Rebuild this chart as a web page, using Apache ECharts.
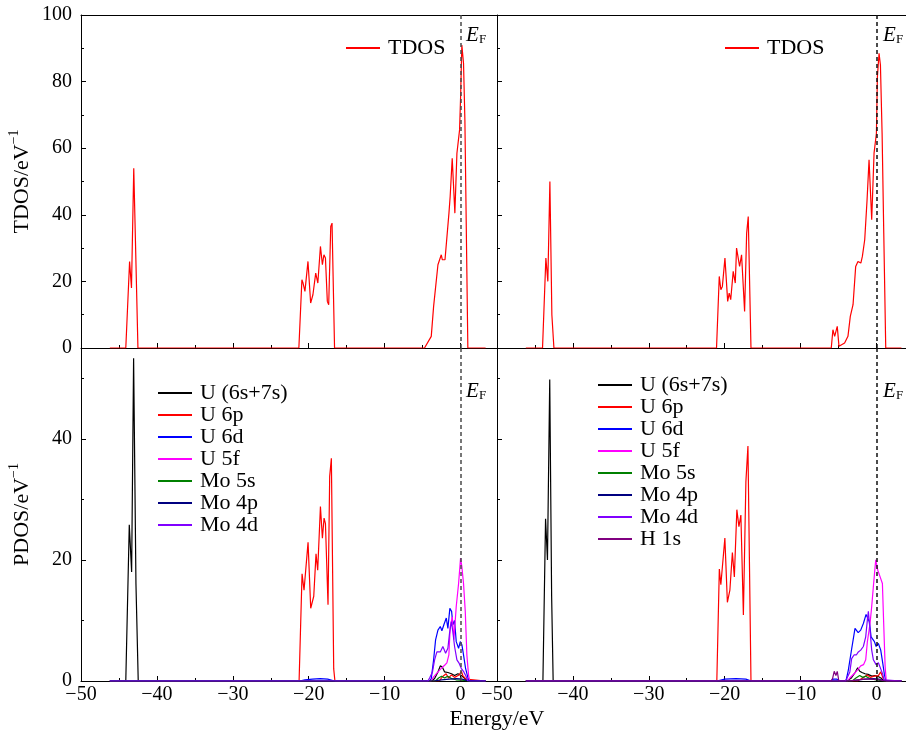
<!DOCTYPE html>
<html>
<head>
<meta charset="utf-8">
<script src="https://cdn.jsdelivr.net/npm/echarts@6/dist/echarts.min.js"></script>
<style>
  html, body { margin: 0; padding: 0; background: #ffffff; }
  #chart { width: 906px; height: 735px; }
</style>
</head>
<body>
<div id="chart"></div>
<script>
// ---- Density of states, [energy (eV), DOS (states/eV)] ----

// Total DOS, left structure
const tdosLeft = [
  [-46.2, 0], [-44.1, 0], [-43.6, 26], [-43.35, 18], [-43.05, 54], [-42.5, 0],
  [-21.3, 0], [-20.9, 20.5], [-20.75, 19.5], [-20.5, 17], [-20.1, 26], [-19.75, 13.5], [-19.45, 16], [-19.25, 16],
  [-19.08, 22.5], [-18.8, 19.5], [-18.46, 30.5], [-18.2, 25], [-18.0, 28], [-17.8, 27], [-17.55, 14], [-17.37, 13],
  [-17.1, 36.5], [-16.93, 37.5], [-16.6, 0],
  [-4.75, 0], [-3.86, 3.5], [-3.55, 12.5], [-3.35, 13], [-2.98, 25], [-2.54, 28], [-2.4, 26.5], [-2.05, 26.5],
  [-1.9, 27], [-1.53, 40.5], [-1.37, 45.5], [-1.1, 57], [-0.75, 40.5], [-0.48, 58.5], [-0.13, 65.5], [0.0, 75],
  [0.17, 91], [0.39, 85.5], [0.57, 68.5], [0.96, 0], [3.3, 0]
];

// Total DOS, right structure
const tdosRight = [
  [-46.2, 0], [-44.0, 0], [-43.56, 27], [-43.3, 20], [-43.03, 50], [-42.77, 10], [-42.5, 0],
  [-21.07, 0], [-20.71, 21.5], [-20.5, 17.5], [-20.3, 18.5], [-19.96, 27], [-19.6, 14], [-19.4, 16.5], [-19.2, 14.5],
  [-18.87, 23], [-18.6, 19.5], [-18.43, 30], [-18.3, 30], [-18.03, 24.5], [-17.77, 28], [-17.37, 11], [-17.1, 34.5],
  [-16.89, 39.5], [-16.53, 0],
  [-5.95, 0], [-5.73, 5.5], [-5.5, 3.5], [-5.16, 6.5], [-4.93, 0.5], [-4.7, 0], [-4.19, 1.5], [-3.75, 3.5],
  [-3.44, 9.5], [-3.08, 13], [-2.73, 24.5], [-2.43, 26], [-2.2, 26.5], [-2.05, 25.5], [-1.85, 27.5], [-1.54, 32.5],
  [-1.23, 44.5], [-0.97, 56.5], [-0.62, 38.5], [-0.31, 58.5], [0.0, 64.5], [0.13, 81.5], [0.35, 88.5], [0.53, 85],
  [0.75, 64.5], [0.97, 34.5], [1.23, 0], [3.3, 0]
];

// Partial DOS, left structure
const u6s7sLeft = [
  [-46.2, 0], [-44.1, 0], [-43.64, 25.8], [-43.33, 18], [-43.07, 53.3], [-42.76, 16], [-42.46, 0],
  [-3.8, 0], [-3.42, 0.4], [-2.98, 1.5], [-2.67, 2.5], [-2.4, 2.3], [-2.1, 1.5], [-1.67, 1.4], [-1.2, 1.2],
  [-0.79, 0.9], [-0.35, 1.2], [0.09, 0.9], [0.5, 0.5], [0.96, 0], [3.3, 0]
];
const u6pLeft = [
  [-46.2, 0], [-21.27, 0], [-20.88, 17.7], [-20.62, 15], [-20.09, 22.9], [-19.74, 12], [-19.34, 14], [-19.04, 21],
  [-18.82, 18.3], [-18.46, 28.8], [-18.2, 23.6], [-17.98, 26.9], [-17.8, 26], [-17.46, 12.6], [-17.24, 33.8],
  [-17.02, 36.8], [-16.71, 2], [-16.55, 0],
  [-2.8, 0], [-2.4, 0.7], [-1.9, 1.2], [-1.6, 0.5], [-1.2, 1], [-0.79, 0.6], [-0.2, 1], [0.1, 1.6], [0.3, 0.9],
  [0.7, 0.3], [0.96, 0], [3.3, 0]
];
const u6dLeft = [
  [-46.2, 0], [-21.2, 0], [-20.5, 0.2], [-19.5, 0.3], [-18.5, 0.4], [-17.5, 0.3], [-16.6, 0],
  [-4.1, 0], [-3.86, 0.4], [-3.55, 3.5], [-3.29, 6.8], [-2.98, 8.4], [-2.67, 9], [-2.46, 8.3], [-2.2, 9.3],
  [-1.88, 10.4], [-1.67, 8.7], [-1.41, 12], [-1.18, 11.5], [-1.01, 9.3], [-0.79, 10], [-0.57, 6.5], [-0.26, 5.4],
  [-0.04, 6.5], [0.17, 6], [0.39, 4.3], [0.66, 2.1], [0.96, 0.6], [1.1, 0], [3.3, 0]
];
const u5fLeft = [
  [-46.2, 0], [-3.9, 0], [-3.6, 0.6], [-2.98, 1.5], [-2.54, 2.1], [-2.1, 2.6], [-1.8, 3], [-1.54, 4.3],
  [-1.36, 9], [-1.09, 10.6], [-0.88, 6.8], [-0.57, 12.3], [-0.26, 16.1], [0.0, 20.3], [0.17, 18.9], [0.39, 16.1],
  [0.62, 11.5], [0.83, 4.3], [1.05, 1], [1.2, 0], [3.3, 0]
];
const mo5sLeft = [
  [-46.2, 0], [-3.3, 0], [-2.9, 0.5], [-2.5, 0.8], [-2.1, 0.5], [-1.7, 0.8], [-1.2, 0.4], [-0.6, 0.2],
  [0.5, 0.1], [0.9, 0], [3.3, 0]
];
const mo4pLeft = [
  [-46.2, 0], [-3.5, 0], [-2.5, 0.2], [-1.5, 0.3], [-0.5, 0.4], [0.2, 0.3], [0.8, 0.1], [1.0, 0], [3.3, 0]
];
const mo4dLeft = [
  [-46.2, 0], [-4.3, 0], [-4.08, 0.5], [-3.7, 1.5], [-3.42, 3.5], [-3.12, 4.8], [-2.67, 4.8], [-2.33, 5.7],
  [-1.97, 4.6], [-1.67, 5.4], [-1.45, 7.9], [-1.22, 9.8], [-1.01, 8.1], [-0.79, 5.7], [-0.48, 3.5], [-0.22, 3],
  [0.09, 2.1], [0.43, 1.5], [0.75, 0.7], [0.95, 0], [3.3, 0]
];

// Partial DOS, right structure
const u6s7sRight = [
  [-46.2, 0], [-43.95, 0], [-43.6, 26.8], [-43.35, 20], [-43.05, 49.8], [-42.8, 14], [-42.6, 0],
  [-3.9, 0], [-3.3, 0.5], [-2.8, 1.4], [-2.47, 2.2], [-2.2, 1.6], [-1.9, 1.4], [-1.5, 1.2], [-1.1, 1.1],
  [-0.6, 0.8], [-0.2, 0.9], [0.3, 0.7], [0.7, 0.4], [1.0, 0], [3.3, 0]
];
const u6pRight = [
  [-46.2, 0], [-21.03, 0], [-20.7, 18.5], [-20.5, 15.9], [-19.97, 23.6], [-19.64, 13], [-19.31, 15],
  [-18.98, 21.2], [-18.72, 17.2], [-18.39, 28.3], [-18.12, 25.5], [-17.86, 27.4], [-17.53, 10.9], [-17.2, 32.9],
  [-16.93, 38.8], [-16.53, 0],
  [-2.5, 0], [-1.8, 0.5], [-1.2, 1.0], [-0.8, 0.6], [-0.3, 0.8], [0.26, 0.9], [0.57, 1.5], [0.84, 0.6],
  [1.1, 0], [3.3, 0]
];
const u6dRight = [
  [-46.2, 0], [-21.0, 0], [-20.0, 0.3], [-18.5, 0.4], [-17.2, 0.3], [-16.5, 0],
  [-6.0, 0], [-5.7, 0.3], [-5.2, 0.3], [-4.9, 0],
  [-4.01, 0], [-3.7, 1.8], [-3.3, 5], [-2.82, 8.7], [-2.6, 8.4], [-2.4, 8], [-2.07, 8.4], [-1.72, 9.5],
  [-1.36, 11], [-1.15, 11.3], [-0.93, 9.8], [-0.7, 7.3], [-0.49, 7.4], [-0.26, 6.5], [-0.04, 5.7], [0.26, 6.2],
  [0.57, 5.1], [0.84, 2.9], [1.06, 1], [1.25, 0], [3.3, 0]
];
const u5fRight = [
  [-46.2, 0], [-3.8, 0], [-3.5, 0.5], [-2.8, 1.4], [-2.38, 2], [-2.07, 2.5], [-1.7, 2.7], [-1.41, 3.5],
  [-1.19, 6.5], [-0.84, 9.5], [-0.62, 12.3], [-0.4, 15.6], [-0.09, 20], [0.18, 18.3], [0.49, 17.2], [0.79, 16.1],
  [0.93, 10.6], [1.15, 2.4], [1.3, 0], [3.3, 0]
];
const mo5sRight = [
  [-46.2, 0], [-3.2, 0], [-2.7, 0.5], [-2.2, 0.9], [-1.8, 0.6], [-1.4, 0.8], [-0.9, 0.4], [0.0, 0.2],
  [0.9, 0], [3.3, 0]
];
const mo4pRight = [
  [-46.2, 0], [-3.4, 0], [-2.4, 0.2], [-1.4, 0.3], [-0.4, 0.4], [0.3, 0.3], [0.9, 0.1], [1.1, 0], [3.3, 0]
];
const mo4dRight = [
  [-46.2, 0], [-4.1, 0], [-3.9, 0.4], [-3.5, 1.5], [-3.26, 3.7], [-2.95, 4.3], [-2.65, 4.3], [-2.38, 4.8],
  [-2.07, 5.1], [-1.72, 5.7], [-1.41, 7.3], [-1.19, 10.1], [-1.06, 11.5], [-0.84, 8.4], [-0.62, 5.1],
  [-0.4, 3.5], [-0.04, 2.7], [0.26, 3], [0.57, 2], [0.84, 1.1], [1.0, 0.2], [1.15, 0], [3.3, 0]
];
const h1sRight = [
  [-46.2, 0], [-6.0, 0], [-5.78, 0.4], [-5.56, 1.6], [-5.34, 0.9], [-5.16, 1.6], [-4.95, 0],
  [-3.5, 0], [-2.5, 0.2], [-1.5, 0.3], [-0.5, 0.3], [0.5, 0.2], [1.0, 0], [3.3, 0]
];

// Axis ranges (the right-hand panels run off the edge of the page)
const energyRangeLeft = [-50, 4.8];
const energyRangeRight = [-50, 3.9];
const tdosRange = [0, 100];
const pdosRange = [0, 55];

// Series names and colours
const pdosNamesLeft = ['U (6s+7s)', 'U 6p', 'U 6d', 'U 5f', 'Mo 5s', 'Mo 4p', 'Mo 4d'];
const pdosNamesRight = ['U (6s+7s)', 'U 6p', 'U 6d', 'U 5f', 'Mo 5s', 'Mo 4p', 'Mo 4d', 'H 1s'];
const colours = {
  'TDOS': '#ff0000',
  'U (6s+7s)': '#000000',
  'U 6p': '#ff0000',
  'U 6d': '#0000ff',
  'U 5f': '#ff00ff',
  'Mo 5s': '#008000',
  'Mo 4p': '#000080',
  'Mo 4d': '#8000ff',
  'H 1s': '#800080'
};

const SERIF = 'Liberation Serif';
const chart = echarts.init(document.getElementById('chart'), null, { renderer: 'canvas' });

const grids = [
  { left: 81, top: 15, width: 416, height: 333 },   // total DOS, left
  { left: 497, top: 15, width: 409, height: 333 },  // total DOS, right
  { left: 81, top: 348, width: 416, height: 333 },  // partial DOS, left
  { left: 497, top: 348, width: 409, height: 333 }  // partial DOS, right
];

const minus = v => String(v).replace('-', '\u2212');
const xAxes = [];
const yAxes = [];
const mainX = [];
const mainY = [];

function addAxes(gi, opt) {
  const xr = opt.xRange;
  // major x ticks with labels
  mainX.push(xAxes.length);
  xAxes.push({
    gridIndex: gi, type: 'value', min: xr[0], max: xr[1], interval: 10, position: 'bottom',
    axisLine: { show: true, onZero: false, lineStyle: { color: '#000', width: 1 } },
    axisTick: { show: true, inside: true, length: 5, lineStyle: { color: '#000', width: 1 } },
    axisLabel: {
      show: opt.xLabels, margin: 4, fontFamily: SERIF, fontSize: 20, color: '#000',
      showMaxLabel: false,
      formatter: v => (v % 10 === 0 && v <= 0) ? minus(v) : ''
    },
    splitLine: { show: false }
  });
  // minor x ticks
  xAxes.push({
    gridIndex: gi, type: 'value', min: xr[0], max: xr[1], interval: 5, position: 'bottom',
    axisLine: { show: false, onZero: false },
    axisTick: { show: true, inside: true, length: 3, lineStyle: { color: '#000', width: 1 } },
    axisLabel: { show: false }, splitLine: { show: false }
  });
  // frame line along the top of the upper panels
  if (opt.topFrame) {
    xAxes.push({
      gridIndex: gi, type: 'value', min: xr[0], max: xr[1], position: 'top',
      axisLine: { show: true, onZero: false, lineStyle: { color: '#000', width: 1 } },
      axisTick: { show: false }, axisLabel: { show: false }, splitLine: { show: false }
    });
  }
  // major y ticks
  mainY.push(yAxes.length);
  const yMain = {
    gridIndex: gi, type: 'value', min: opt.yRange[0], max: opt.yRange[1], interval: 20, position: 'left',
    axisLine: { show: true, onZero: false, lineStyle: { color: '#000', width: 1 } },
    axisTick: { show: true, inside: true, length: 5, lineStyle: { color: '#000', width: 1 } },
    axisLabel: {
      show: opt.yLabels, margin: 9, fontFamily: SERIF, fontSize: 20, color: '#000',
      showMaxLabel: opt.yRange[1] % 20 === 0,
      formatter: v => (v % 20 === 0) ? String(v) : ''
    },
    splitLine: { show: false }
  };
  if (opt.yName) {
    yMain.name = '{m|' + opt.yName + '}{s|\u22121}';
    yMain.nameLocation = 'middle';
    yMain.nameRotate = 90;
    yMain.nameGap = 48;
    yMain.nameTextStyle = {
      rich: {
        m: { fontFamily: SERIF, fontSize: 22, color: '#000', lineHeight: 26, verticalAlign: 'bottom' },
        s: { fontFamily: SERIF, fontSize: 14, color: '#000', lineHeight: 14, verticalAlign: 'top' }
      }
    };
  }
  yAxes.push(yMain);
  // minor y ticks
  yAxes.push({
    gridIndex: gi, type: 'value', min: opt.yRange[0], max: opt.yRange[1], interval: 10, position: 'left',
    axisLine: { show: false, onZero: false },
    axisTick: { show: true, inside: true, length: 3, lineStyle: { color: '#000', width: 1 } },
    axisLabel: { show: false }, splitLine: { show: false }
  });
}

addAxes(0, { xRange: energyRangeLeft, xLabels: false, yLabels: true, yRange: tdosRange, topFrame: true, yName: 'TDOS/eV' });
addAxes(1, { xRange: energyRangeRight, xLabels: false, yLabels: false, yRange: tdosRange, topFrame: true });
addAxes(2, { xRange: energyRangeLeft, xLabels: true, yLabels: true, yRange: pdosRange, topFrame: false, yName: 'PDOS/eV' });
addAxes(3, { xRange: energyRangeRight, xLabels: true, yLabels: false, yRange: pdosRange, topFrame: false });

function fermiLine(colour) {
  return {
    silent: true, symbol: 'none', animation: false,
    label: { show: false },
    lineStyle: { type: [4, 3], color: colour, width: 1.5 },
    data: [{ xAxis: 0 }]
  };
}

function lineSeries(name, data, gi, withFermi, fermiColour) {
  const s = {
    name: name, type: 'line', data: data,
    xAxisIndex: mainX[gi], yAxisIndex: mainY[gi],
    symbol: 'none', showSymbol: false, smooth: false,
    lineStyle: { color: colours[name], width: 1.2 },
    itemStyle: { color: colours[name] },
    z: 3
  };
  if (withFermi) s.markLine = fermiLine(fermiColour);
  return s;
}

const series = [
  lineSeries('TDOS', tdosLeft, 0, true, '#4a4a4a'),
  lineSeries('TDOS', tdosRight, 1, true, '#111111')
];
const leftPdos = [u6s7sLeft, u6pLeft, u6dLeft, u5fLeft, mo5sLeft, mo4pLeft, mo4dLeft];
pdosNamesLeft.forEach((n, i) => series.push(lineSeries(n, leftPdos[i], 2, i === 0, '#4a4a4a')));
const rightPdos = [u6s7sRight, u6pRight, u6dRight, u5fRight, mo5sRight, mo4pRight, mo4dRight, h1sRight];
pdosNamesRight.forEach((n, i) => series.push(lineSeries(n, rightPdos[i], 3, i === 0, '#111111')));

function legendBox(names, left, top) {
  return {
    data: names, left: left, top: top, orient: 'vertical', padding: 0,
    itemWidth: 34, itemHeight: 12, itemGap: 0,
    icon: 'path://M0,5L34,5L34,7L0,7Z',
    selectedMode: false,
    textStyle: { fontFamily: SERIF, fontSize: 22, color: '#000', padding: [0, 0, 0, 3] }
  };
}

// Fermi level tags and shared axis title
function fermiTag(x, y) {
  return [
    { type: 'text', x: x, y: y, silent: true,
      style: { text: 'E', font: 'italic 21px "Liberation Serif"', fill: '#000', textVerticalAlign: 'top' } },
    { type: 'text', x: x + 13, y: y + 8, silent: true,
      style: { text: 'F', font: '13px "Liberation Serif"', fill: '#000', textVerticalAlign: 'top' } }
  ];
}

const graphics = [].concat(
  fermiTag(466, 25), fermiTag(883, 25), fermiTag(466, 381), fermiTag(883, 381),
  [{ type: 'text', x: 497, y: 708, silent: true,
     style: { text: 'Energy/eV', font: '22px "Liberation Serif"', fill: '#000',
              textAlign: 'center', textVerticalAlign: 'top' } }]
);

chart.setOption({
  animation: false,
  backgroundColor: '#ffffff',
  textStyle: { fontFamily: SERIF },
  grid: grids,
  xAxis: xAxes,
  yAxis: yAxes,
  legend: [
    legendBox(['TDOS'], 346, 37),
    legendBox(['TDOS'], 725, 37),
    legendBox(pdosNamesLeft, 158, 382),
    legendBox(pdosNamesRight, 598, 374)
  ],
  graphic: graphics,
  series: series
});
</script>
</body>
</html>
